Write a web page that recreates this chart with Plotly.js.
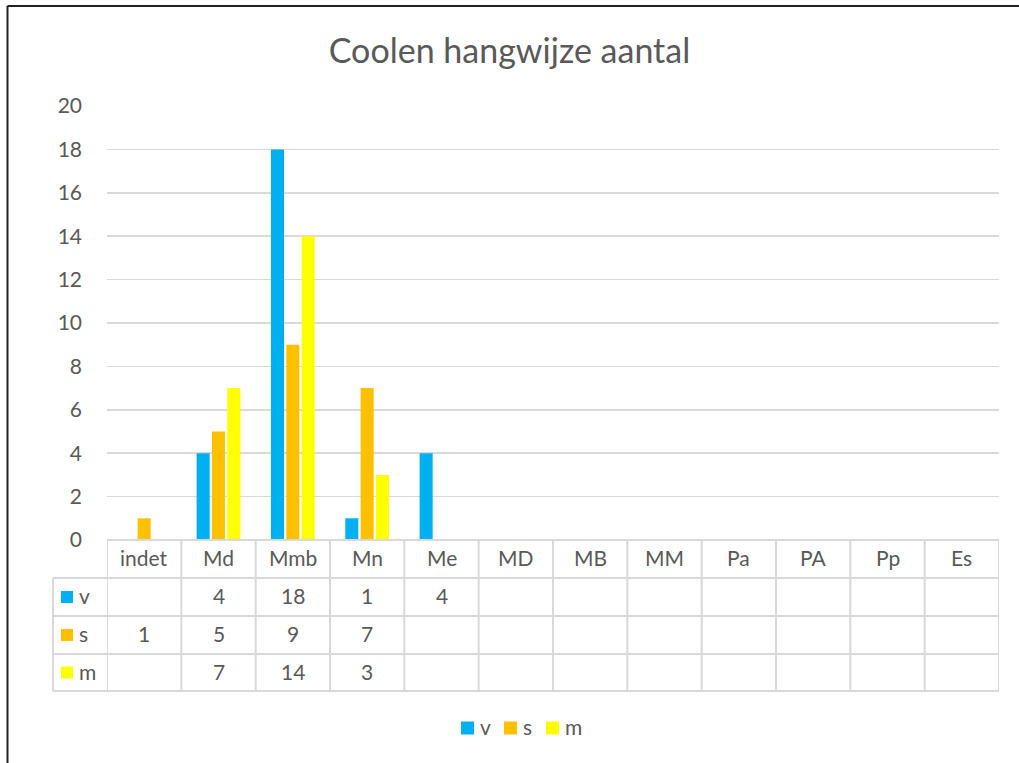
<!DOCTYPE html>
<html>
<head>
<meta charset="utf-8">
<script src="https://cdn.plot.ly/plotly-3.0.1.min.js"></script>
<style>
html,body{margin:0;padding:0;background:#fff;}
#chart{width:1019px;height:763px;}
</style>
</head>
<body>
<div id="chart"></div>
<script>
// ---- data ----
const categories = ["indet","Md","Mmb","Mn","Me","MD","MB","MM","Pa","PA","Pp","Es"];
const seriesNames = ["v","s","m"];
const vValues = [null,4,18,1,4,null,null,null,null,null,null,null];
const sValues = [1,5,9,7,null,null,null,null,null,null,null,null];
const mValues = [null,7,14,3,null,null,null,null,null,null,null,null];
const yTicks = [0,2,4,6,8,10,12,14,16,18,20];
const titleText = "Coolen hangwijze aantal";

// ---- styling ----
const colors = ["#00B0F0","#FFC000","#FFFF00"];
const textColor = "#595959";
const gridColor = "#D9D9D9";
const FONT = "Lato, 'Open Sans', sans-serif";
const FS = 21;

const W = 1019, H = 763;
const L = 107, R = 20, T = 106, B = 223;
const plotW = W - L - R, plotH = H - T - B;
const px2x = px => (px - L) / plotW;
const py2y = py => ((H - B) - py) / plotH;

const allValues = [vValues, sValues, mValues];
const traces = seriesNames.map((n, i) => ({
  type: "bar",
  name: n,
  x: categories,
  y: allValues[i],
  marker: {color: colors[i]},
  hoverinfo: "x+y+name"
}));

const shapes = [];
const annotations = [];
const line = {color: gridColor, width: 2};

// table row boundaries (pixel positions -> paper)
const rowLines = [578, 616, 654, 691].map(py2y);
const headerMid = py2y(557.5);
const rowMids = [py2y(597), py2y(635), py2y(672.5)];
const textMids = [py2y(595.5), py2y(633.5), py2y(671)];
const tableLeft = px2x(53);

shapes.push({type:"line", xref:"paper", yref:"paper", x0:0, x1:1, y0:0, y1:0, line});
rowLines.forEach(y => shapes.push({type:"line", xref:"paper", yref:"paper", x0:tableLeft, x1:1, y0:y, y1:y, line}));
for (let i = 0; i <= categories.length; i++) {
  shapes.push({type:"line", xref:"x", yref:"paper", x0:i-0.5, x1:i-0.5, y0:0, y1:rowLines[3], line});
}
shapes.push({type:"line", xref:"paper", yref:"paper", x0:tableLeft, x1:tableLeft, y0:rowLines[0], y1:rowLines[3], line});

categories.forEach((c, i) => annotations.push({
  xref:"x", yref:"paper", x:i, y:headerMid, text:c, showarrow:false,
  font:{family:FONT, size:FS, color:textColor}, xanchor:"center", yanchor:"middle"
}));

seriesNames.forEach((n, r) => {
  const ym = rowMids[r];
  const tm = textMids[r];
  const half = 6 / plotH;
  shapes.push({type:"rect", xref:"paper", yref:"paper",
    x0:px2x(61), x1:px2x(73), y0:ym-half, y1:ym+half,
    fillcolor:colors[r], line:{width:0}});
  annotations.push({xref:"paper", yref:"paper", x:px2x(77), y:tm, text:n, showarrow:false,
    font:{family:FONT, size:FS, color:textColor}, xanchor:"left", yanchor:"middle"});
  allValues[r].forEach((v, i) => {
    if (v === null) return;
    annotations.push({xref:"x", yref:"paper", x:i, y:tm, text:String(v), showarrow:false,
      font:{family:FONT, size:FS, color:textColor}, xanchor:"center", yanchor:"middle"});
  });
});

// bottom legend (drawn manually for Excel-like spacing)
const legendKeyX = [461, 504, 546];
const legendY = py2y(728);
const legendTextY = py2y(726.5);
seriesNames.forEach((n, r) => {
  const half = 6.5 / plotH;
  shapes.push({type:"rect", xref:"paper", yref:"paper",
    x0:px2x(legendKeyX[r]), x1:px2x(legendKeyX[r] + 13), y0:legendY-half, y1:legendY+half,
    fillcolor:colors[r], line:{width:0}});
  annotations.push({xref:"paper", yref:"paper", x:px2x(legendKeyX[r] + 17), y:legendTextY, text:n, showarrow:false,
    font:{family:FONT, size:FS, color:textColor}, xanchor:"left", yanchor:"middle"});
});

// outer chart border (top and left)
shapes.push({type:"line", xref:"paper", yref:"paper", x0:px2x(7.5), x1:px2x(1019), y0:py2y(6), y1:py2y(6), line:{color:"#222", width:2}});
shapes.push({type:"line", xref:"paper", yref:"paper", x0:px2x(7.5), x1:px2x(7.5), y0:py2y(6), y1:py2y(763), line:{color:"#222", width:2}});

const layout = {
  width: W, height: H,
  margin: {l: L, r: R, t: T, b: B},
  paper_bgcolor: "#fff", plot_bgcolor: "#fff",
  title: {text: titleText, x: 0.5, xanchor: "center", y: 1 - 51/H, yanchor: "middle",
    font: {family: FONT, size: 34, color: textColor}},
  barmode: "group",
  bargap: 0.38,
  bargroupgap: 0.15,
  showlegend: false,
  xaxis: {type: "category", range: [-0.5, categories.length - 0.5], showticklabels: false,
    showgrid: false, zeroline: false, showline: false, ticks: "", fixedrange: true},
  yaxis: {range: [0, 20], tickvals: yTicks, showgrid: true, gridcolor: gridColor, gridwidth: 1.5,
    zeroline: false, showline: false, ticks: "", ticklabelstandoff: 24,
    tickfont: {family: FONT, size: FS, color: textColor}, fixedrange: true},
  shapes, annotations
};

Plotly.newPlot("chart", traces, layout, {displayModeBar: false, staticPlot: true});
</script>
</body>
</html>
